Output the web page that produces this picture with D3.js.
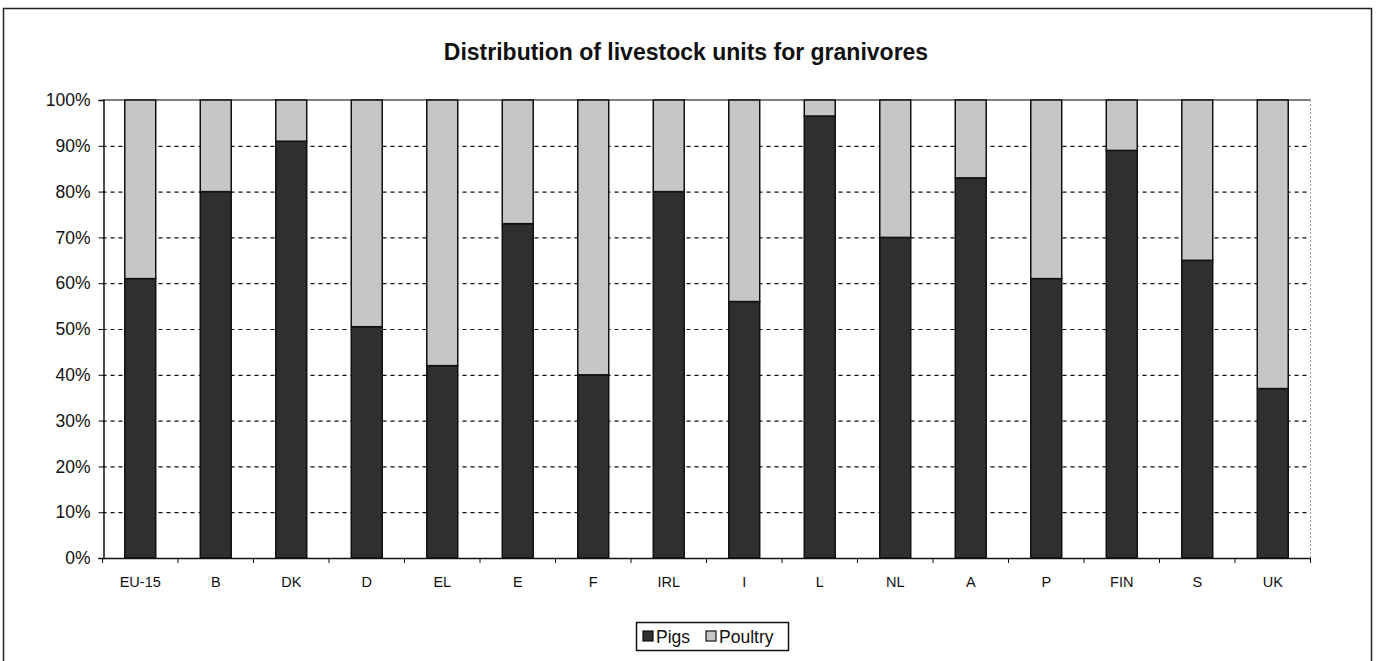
<!DOCTYPE html>
<html><head><meta charset="utf-8">
<script src="https://cdn.jsdelivr.net/npm/d3@7"></script>
<style>html,body{margin:0;padding:0;background:#fff;}svg{display:block;font-family:Arial,"Liberation Sans",sans-serif;}</style>
</head><body><svg id="c" width="1376" height="661"></svg>
<script>
const categories = ["EU-15","B","DK","D","EL","E","F","IRL","I","L","NL","A","P","FIN","S","UK"];
const pigs = [61,80,91,50.5,42,73,40,80,56,96.5,70,83,61,89,65,37];
const poultry = pigs.map(v => 100 - v);
const yTicks = [0,10,20,30,40,50,60,70,80,90,100];
const seriesNames = ["Pigs","Poultry"];
const seriesColors = ["#2f2f2f","#c6c6c6"];

const svg = d3.select("#c");
const L = 102.5, R = 1310.5, T = 100, B = 558;

svg.append("rect").attr("x",3.5).attr("y",8.5).attr("width",1368).attr("height",660)
  .attr("fill","#fff").attr("stroke","#222").attr("stroke-width",1.5);

svg.append("text").attr("x",686).attr("y",60).attr("text-anchor","middle")
  .attr("font-size",23).attr("font-weight","bold").attr("fill","#111")
  .text("Distribution of livestock units for granivores");

const x = d3.scaleBand().domain(categories).range([L,R]).paddingInner(0.59).paddingOuter(0.295);
const y = d3.scaleLinear().domain([0,100]).range([B,T]);

// gridlines
svg.append("g").selectAll("line").data(yTicks.filter(t=>t>0 && t<100)).join("line")
  .attr("x1",L).attr("x2",R).attr("y1",d=>y(d)+0.5).attr("y2",d=>y(d)+0.5)
  .attr("stroke","#111").attr("stroke-width",1.2).attr("stroke-dasharray","4,4");
svg.append("line").attr("x1",L).attr("x2",R).attr("y1",y(100)).attr("y2",y(100))
  .attr("stroke","#555").attr("stroke-width",1.5);
svg.append("line").attr("x1",R).attr("x2",R).attr("y1",T).attr("y2",B)
  .attr("stroke","#999").attr("stroke-width",1).attr("stroke-dasharray","2,2");

const stackData = categories.map((c,i)=>({cat:c, Pigs:pigs[i], Poultry:poultry[i]}));
const stack = d3.stack().keys(seriesNames)(stackData);
svg.append("g").selectAll("g").data(stack).join("g")
  .attr("fill",(d,i)=>seriesColors[i])
  .selectAll("rect").data(d=>d).join("rect")
  .attr("x",d=>x(d.data.cat)).attr("width",x.bandwidth())
  .attr("y",d=>y(d[1])).attr("height",d=>y(d[0])-y(d[1]))
  .attr("stroke","#111").attr("stroke-width",1.5);

// y axis
const yAxis = svg.append("g").attr("transform",`translate(${L+1},0)`)
  .call(d3.axisLeft(y).tickValues(yTicks).tickFormat(d=>d+"%").tickSize(5).tickPadding(8));
yAxis.select(".domain").attr("stroke","#111").attr("stroke-width",1.5);
yAxis.selectAll(".tick line").attr("stroke","#111");
yAxis.selectAll("text").attr("font-size",17.5).attr("fill","#111").attr("font-family","Arial,'Liberation Sans',sans-serif");

// x axis
const xAxis = svg.append("g").attr("transform",`translate(0,${B})`)
  .call(d3.axisBottom(x).tickSize(0).tickPadding(19));
xAxis.select(".domain").attr("stroke","#111").attr("stroke-width",1.5);
xAxis.selectAll("text").attr("font-size",14.5).attr("fill","#111").attr("font-family","Arial,'Liberation Sans',sans-serif");
const step = x.step();
svg.append("g").selectAll("line").data(d3.range(categories.length+1)).join("line")
  .attr("x1",i=>L+i*step).attr("x2",i=>L+i*step).attr("y1",B).attr("y2",B+5)
  .attr("stroke","#111").attr("stroke-width",1);

// legend
const lg = svg.append("g");
lg.append("rect").attr("x",636.5).attr("y",622.5).attr("width",152).attr("height",28)
  .attr("fill","#fff").attr("stroke","#111").attr("stroke-width",1.5);
const legX = [643,706];
seriesNames.forEach((s,i)=>{
  lg.append("rect").attr("x",legX[i]).attr("y",631).attr("width",10).attr("height",10)
    .attr("fill",seriesColors[i]).attr("stroke","#111").attr("stroke-width",1.2);
  lg.append("text").attr("x",legX[i]+13).attr("y",643).attr("font-size",17.5).attr("fill","#111").text(s);
});
</script></body></html>
